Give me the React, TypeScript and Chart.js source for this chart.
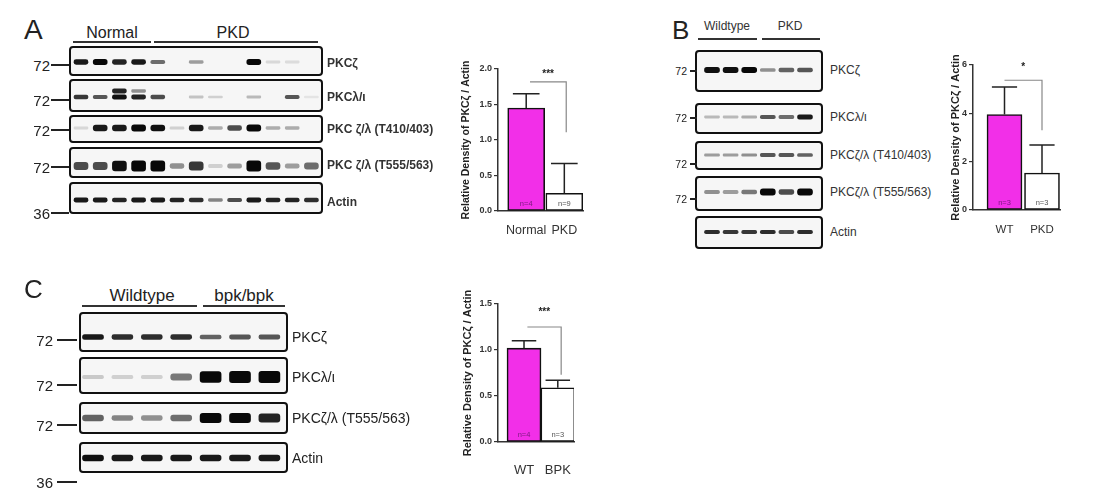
import React, { useEffect, useRef } from 'react';
import { Chart, registerables } from 'chart.js';

Chart.register(...registerables);

const FONT = '"Liberation Sans", Arial, Helvetica, sans-serif';
Chart.defaults.font.family = FONT;

// ---------- Panel A blot: 4 normal + 9 PKD lanes (band darkness 0..1)
const aLanes = [1, 2, 3, 4, 5, 6, 7, 8, 9, 10, 11, 12, 13];
const aRowLabels = ['PKCζ', 'PKCλ/ι', 'PKC ζ/λ (T410/403)', 'PKC ζ/λ (T555/563)', 'Actin'];
const aMarkers = ['72', '72', '72', '72', '36'];
const aPkcZeta = [0.85, 0.95, 0.8, 0.85, 0.45, 0, 0.25, 0, 0, 0.95, 0.06, 0.05, 0];
const aPkcLambda = [0.7, 0.55, 0.9, 0.8, 0.6, 0, 0.12, 0.08, 0, 0.15, 0, 0.55, 0.03];
const aPkcLambdaUpper = [0, 0, 0.8, 0.3, 0, 0, 0, 0, 0, 0, 0, 0, 0];
const aT410 = [0.06, 0.85, 0.85, 0.95, 0.9, 0.08, 0.85, 0.2, 0.6, 0.95, 0.2, 0.2, 0];
const aT555 = [0.6, 0.6, 0.9, 0.95, 0.95, 0.3, 0.7, 0.08, 0.25, 1, 0.55, 0.25, 0.45];
const aActin = [0.85, 0.85, 0.8, 0.85, 0.85, 0.8, 0.75, 0.35, 0.6, 0.85, 0.8, 0.8, 0.75];

// ---------- Panel B blot: 3 wildtype + 3 PKD lanes
const bLanes = [1, 2, 3, 4, 5, 6];
const bRowLabels = ['PKCζ', 'PKCλ/ι', 'PKCζ/λ (T410/403)', 'PKCζ/λ (T555/563)', 'Actin'];
const bMarkers = ['72', '72', '72', '72'];
const bPkcZeta = [0.9, 0.9, 1, 0.3, 0.5, 0.55];
const bPkcLambda = [0.15, 0.15, 0.2, 0.55, 0.45, 0.85];
const bT410 = [0.25, 0.25, 0.3, 0.55, 0.55, 0.5];
const bT555 = [0.3, 0.25, 0.4, 0.95, 0.6, 1];
const bActin = [0.75, 0.7, 0.7, 0.75, 0.6, 0.75];

// ---------- Panel C blot: 4 wildtype + 3 bpk/bpk lanes
const cLanes = [1, 2, 3, 4, 5, 6, 7];
const cRowLabels = ['PKCζ', 'PKCλ/ι', 'PKCζ/λ (T555/563)', 'Actin'];
const cMarkers = ['72', '72', '72', '36'];
const cPkcZeta = [0.85, 0.75, 0.75, 0.75, 0.5, 0.55, 0.55];
const cPkcLambda = [0.1, 0.08, 0.08, 0.4, 0.95, 1, 1];
const cT555 = [0.5, 0.35, 0.3, 0.45, 0.95, 1, 0.8];
const cActin = [0.9, 0.85, 0.85, 0.85, 0.85, 0.85, 0.85];

// ---------- densitometry bars
const aGroups = ['Normal', 'PKD'];
const aMeans = [1.45, 0.25];
const aErrors = [0.2, 0.42];
const aCounts = ['n=4', 'n=9'];
const aYTicks = [0, 0.5, 1.0, 1.5, 2.0];

const bGroups = ['WT', 'PKD'];
const bMeans = [3.95, 1.53];
const bErrors = [1.14, 1.16];
const bCounts = ['n=3', 'n=3'];
const bYTicks = [0, 2, 4, 6];

const cGroups = ['WT', 'BPK'];
const cMeans = [1.02, 0.59];
const cErrors = [0.08, 0.08];
const cCounts = ['n=4', 'n=3'];
const cYTicks = [0, 0.5, 1.0, 1.5];

const PINK = '#f22fe8';
const Y_TITLE = 'Relative Density of PKCζ / Actin';

// ---------------------------------------------------------------- blots
type BlotRow = { values: number[]; upper?: number[] };
type BlotSpec = {
  left: number; top: number; width: number; height: number;
  lanes: number[]; rows: BlotRow[];
  laneX0: number; laneGap: number; bandW: number;
  boxLeft: number; boxRight: number;
  boxes: number[][]; // [top, bottom, bandY, minH, extraH]
};

function Blot({ spec }: { spec: BlotSpec }) {
  const ref = useRef<HTMLCanvasElement | null>(null);
  useEffect(() => {
    if (!ref.current) return;
    const lane = (px: number) => 1 + (px - spec.laneX0) / spec.laneGap;
    const datasets: any[] = [];
    spec.rows.forEach((row, r) => {
      const [, , band, minH, extraH] = spec.boxes[r];
      const make = (vals: number[], centre: number) => ({
        data: spec.lanes.map((l, i) => {
          const h = minH + extraH * vals[i];
          return { x: l, y: [centre - h / 2, centre + h / 2] };
        }),
        backgroundColor: vals.map((v) => `rgba(8,8,8,${Math.min(1, Math.pow(v, 0.75) * 1.05)})`),
        barThickness: spec.bandW,
        grouped: false,
        borderSkipped: false,
        borderRadius: 3,
      });
      datasets.push(make(row.values, band));
      if (row.upper) datasets.push(make(row.upper, band - 6));
    });
    const chart = new Chart(ref.current, {
      type: 'bar',
      data: { datasets },
      options: {
        animation: false,
        responsive: false,
        events: [],
        layout: { padding: 0 },
        plugins: { legend: { display: false }, tooltip: { enabled: false } },
        scales: {
          x: { type: 'linear', display: false, offset: false, min: lane(spec.left), max: lane(spec.left + spec.width) },
          y: { type: 'linear', display: false, reverse: true, min: spec.top, max: spec.top + spec.height },
        },
      },
      plugins: [
        {
          id: 'blotBoxes',
          beforeDatasetsDraw(c: any) {
            const { ctx, scales } = c;
            const xl = scales.x.getPixelForValue(lane(spec.boxLeft));
            const xr = scales.x.getPixelForValue(lane(spec.boxRight));
            ctx.save();
            spec.boxes.forEach(([t, b]) => {
              const yt = scales.y.getPixelForValue(t);
              const yb = scales.y.getPixelForValue(b);
              ctx.beginPath();
              ctx.roundRect(xl, yt, xr - xl, yb - yt, 3);
              ctx.fillStyle = '#f6f6f6';
              ctx.fill();
            });
            ctx.restore();
            ctx.save();
            ctx.filter = 'blur(0.7px)';
          },
          afterDatasetsDraw(c: any) {
            const { ctx, scales } = c;
            ctx.restore();
            const xl = scales.x.getPixelForValue(lane(spec.boxLeft));
            const xr = scales.x.getPixelForValue(lane(spec.boxRight));
            ctx.save();
            ctx.strokeStyle = '#111';
            ctx.lineWidth = 2;
            spec.boxes.forEach(([t, b]) => {
              const yt = scales.y.getPixelForValue(t);
              const yb = scales.y.getPixelForValue(b);
              ctx.beginPath();
              ctx.roundRect(xl, yt, xr - xl, yb - yt, 3);
              ctx.stroke();
            });
            ctx.restore();
          },
        },
      ],
    } as any);
    return () => chart.destroy();
  }, [spec]);
  return (
    <canvas
      ref={ref}
      width={spec.width}
      height={spec.height}
      style={{ position: 'absolute', left: spec.left, top: spec.top, width: spec.width, height: spec.height }}
    />
  );
}

// ---------------------------------------------------------------- bar charts
type BarSpec = {
  left: number; top: number; width: number; height: number;
  padTop: number; padRight: number; yAxisW: number; xAxisH: number;
  titlePad: number; titleSize: number; labelPad: number; labelSize: number;
  xMin: number; xMax: number; barW: number;
  groups: string[]; means: number[]; errors: number[]; counts: string[];
  yTicks: number[]; decimals: number;
  bracket: { x1: number; x2: number; y: number; drop: number; starY: number; stars: string };
};

function Bars({ spec }: { spec: BarSpec }) {
  const ref = useRef<HTMLCanvasElement | null>(null);
  useEffect(() => {
    if (!ref.current) return;
    const yMax = spec.yTicks[spec.yTicks.length - 1];
    const chart = new Chart(ref.current, {
      type: 'bar',
      data: {
        datasets: [
          {
            data: spec.means.map((m, i) => ({ x: i + 1, y: m })),
            backgroundColor: [PINK, '#ffffff'],
            borderColor: '#111',
            borderWidth: 1.6,
            borderSkipped: false,
            barThickness: spec.barW,
          },
        ],
      },
      options: {
        animation: false,
        responsive: false,
        events: [],
        layout: { padding: { top: spec.padTop, right: spec.padRight, left: 0, bottom: 0 } },
        plugins: { legend: { display: false }, tooltip: { enabled: false } },
        scales: {
          x: {
            type: 'linear',
            offset: false,
            min: spec.xMin,
            max: spec.xMax,
            afterBuildTicks: (axis: any) => {
              axis.ticks = spec.groups.map((_, i) => ({ value: i + 1 }));
            },
            afterFit: (axis: any) => {
              axis.height = spec.xAxisH;
            },
            ticks: {
              callback: (v: any) => spec.groups[Math.round(Number(v)) - 1] ?? '',
              font: { size: spec.labelSize },
              color: '#333',
              padding: spec.labelPad,
              maxRotation: 0,
              autoSkip: false,
            },
            grid: { display: false, drawTicks: false },
            border: { display: true, color: '#333', width: 1.5 },
          },
          y: {
            type: 'linear',
            min: 0,
            max: yMax,
            afterBuildTicks: (axis: any) => {
              axis.ticks = spec.yTicks.map((v) => ({ value: v }));
            },
            afterFit: (axis: any) => {
              axis.width = spec.yAxisW;
            },
            ticks: {
              callback: (v: any) => Number(v).toFixed(spec.decimals),
              font: { size: 9, weight: 'bold' },
              color: '#333',
              padding: 2,
            },
            grid: { drawOnChartArea: false, drawTicks: true, tickLength: 4, color: '#333', lineWidth: 1.2 },
            border: { display: true, color: '#333', width: 1.5 },
            title: {
              display: true,
              text: Y_TITLE,
              font: { size: spec.titleSize, weight: 'bold' },
              color: '#222',
              padding: { top: spec.titlePad, bottom: 0 },
            },
          },
        },
      },
      plugins: [
        {
          id: 'barExtras',
          afterDatasetsDraw(c: any) {
            const { ctx, scales } = c;
            const { x, y } = scales;
            ctx.save();
            spec.means.forEach((m, i) => {
              const cx = x.getPixelForValue(i + 1);
              const yb = y.getPixelForValue(m);
              const yt = y.getPixelForValue(m + spec.errors[i]);
              const cap = spec.barW * 0.36;
              ctx.strokeStyle = '#222';
              ctx.lineWidth = 1.5;
              ctx.beginPath();
              ctx.moveTo(cx, yb);
              ctx.lineTo(cx, yt);
              ctx.moveTo(cx - cap, yt);
              ctx.lineTo(cx + cap, yt);
              ctx.stroke();
              ctx.fillStyle = i === 0 ? '#7d1a80' : '#555';
              ctx.font = `7.5px ${FONT}`;
              ctx.textAlign = 'center';
              ctx.textBaseline = 'bottom';
              ctx.fillText(spec.counts[i], cx, y.getPixelForValue(0) - 3);
            });
            const b = spec.bracket;
            const x1 = x.getPixelForValue(b.x1);
            const x2 = x.getPixelForValue(b.x2);
            const yb = y.getPixelForValue(b.y);
            ctx.strokeStyle = '#888';
            ctx.lineWidth = 1.2;
            ctx.beginPath();
            ctx.moveTo(x1, yb);
            ctx.lineTo(x2, yb);
            ctx.lineTo(x2, y.getPixelForValue(b.drop));
            ctx.stroke();
            ctx.fillStyle = '#222';
            ctx.font = `bold 10px ${FONT}`;
            ctx.textAlign = 'center';
            ctx.textBaseline = 'middle';
            ctx.fillText(b.stars, (x1 + x2) / 2, y.getPixelForValue(b.starY));
            ctx.restore();
          },
        },
      ],
    } as any);
    return () => chart.destroy();
  }, [spec]);
  return (
    <canvas
      ref={ref}
      width={spec.width}
      height={spec.height}
      style={{ position: 'absolute', left: spec.left, top: spec.top, width: spec.width, height: spec.height }}
    />
  );
}

// ---------------------------------------------------------------- text helpers
function T(props: { x: number; y: number; size: number; children: any; align?: 'left' | 'center'; bold?: boolean; color?: string }) {
  const { x, y, size, align = 'left', bold, color = '#222' } = props;
  return (
    <div
      style={{
        position: 'absolute',
        left: x,
        top: y,
        transform: `translate(${align === 'center' ? '-50%' : '0'}, -50%)`,
        fontSize: size,
        fontWeight: bold ? 'bold' : 'normal',
        color,
        lineHeight: 1,
        whiteSpace: 'nowrap',
      }}
    >
      {props.children}
    </div>
  );
}

function Marker(props: { y: number; text: string; textRight: number; d1: number; d2: number; size: number; thick: number }) {
  const { y, text, textRight, d1, d2, size, thick } = props;
  return (
    <>
      <div
        style={{
          position: 'absolute', right: 1100 - textRight, top: y, transform: 'translateY(-50%)',
          fontSize: size, lineHeight: 1, color: '#222', whiteSpace: 'nowrap',
        }}
      >
        {text}
      </div>
      <div style={{ position: 'absolute', left: d1, top: y - thick / 2, width: d2 - d1, height: thick, background: '#222' }} />
    </>
  );
}

function Rule({ x1, x2, y, thick }: { x1: number; x2: number; y: number; thick: number }) {
  return <div style={{ position: 'absolute', left: x1, top: y - thick / 2, width: x2 - x1, height: thick, background: '#333' }} />;
}

// ---------------------------------------------------------------- layout
const blotA: BlotSpec = {
  left: 60, top: 40, width: 270, height: 180,
  lanes: aLanes,
  rows: [
    { values: aPkcZeta },
    { values: aPkcLambda, upper: aPkcLambdaUpper },
    { values: aT410 },
    { values: aT555 },
    { values: aActin },
  ],
  laneX0: 81, laneGap: 19.2, bandW: 14,
  boxLeft: 70, boxRight: 322,
  boxes: [
    [47, 75, 62, 2, 3.5],
    [80, 111, 97, 1.8, 3],
    [116, 142, 128, 2, 4.5],
    [148, 177, 166, 2.5, 8],
    [183, 213, 200, 2, 2.5],
  ],
};
const aRowY = [63, 97, 129, 165, 202];
const aMarkY = [65, 100, 130, 167, 213];

const blotB: BlotSpec = {
  left: 690, top: 45, width: 138, height: 210,
  lanes: bLanes,
  rows: [{ values: bPkcZeta }, { values: bPkcLambda }, { values: bT410 }, { values: bT555 }, { values: bActin }],
  laneX0: 712, laneGap: 18.6, bandW: 15,
  boxLeft: 696, boxRight: 822,
  boxes: [
    [51, 91, 70, 2, 3.5],
    [104, 133, 117, 1.8, 3],
    [142, 169, 155, 1.8, 2.5],
    [177, 210, 192, 2, 4.5],
    [217, 248, 232, 2, 2],
  ],
};
const bRowY = [70, 117, 155, 192, 232];
const bMarkY = [71, 118, 164, 199];

const blotC: BlotSpec = {
  left: 74, top: 306, width: 220, height: 172,
  lanes: cLanes,
  rows: [{ values: cPkcZeta }, { values: cPkcLambda }, { values: cT555 }, { values: cActin }],
  laneX0: 93, laneGap: 29.4, bandW: 21,
  boxLeft: 80, boxRight: 287,
  boxes: [
    [313, 351, 337, 2.5, 3],
    [358, 393, 377, 2.5, 9],
    [403, 433, 418, 2.5, 7],
    [443, 472, 458, 3.5, 2.5],
  ],
};
const cRowY = [337, 377, 418, 458];
const cMarkY = [340, 385, 425, 482];

const barA: BarSpec = {
  left: 450, top: 55, width: 150, height: 190,
  padTop: 14, padRight: 17, yAxisW: 48, xAxisH: 34,
  titlePad: 10, titleSize: 10.5, labelPad: 12, labelSize: 12.5,
  xMin: 0.26, xMax: 2.49, barW: 37,
  groups: aGroups, means: aMeans, errors: aErrors, counts: aCounts,
  yTicks: aYTicks, decimals: 1,
  bracket: { x1: 1.1, x2: 2.05, y: 1.82, drop: 1.11, starY: 1.93, stars: '***' },
};
const barB: BarSpec = {
  left: 925, top: 50, width: 150, height: 195,
  padTop: 15, padRight: 15, yAxisW: 48, xAxisH: 35,
  titlePad: 24, titleSize: 11, labelPad: 13, labelSize: 11.5,
  xMin: 0.16, xMax: 2.48, barW: 35,
  groups: bGroups, means: bMeans, errors: bErrors, counts: bCounts,
  yTicks: bYTicks, decimals: 0,
  bracket: { x1: 1.0, x2: 2.0, y: 5.37, drop: 3.3, starY: 5.9, stars: '*' },
};
const barC: BarSpec = {
  left: 450, top: 290, width: 145, height: 190,
  padTop: 14, padRight: 15, yAxisW: 48, xAxisH: 38,
  titlePad: 11, titleSize: 11, labelPad: 21, labelSize: 13,
  xMin: 0.23, xMax: 2.48, barW: 34,
  groups: cGroups, means: cMeans, errors: cErrors, counts: cCounts,
  yTicks: cYTicks, decimals: 1,
  bracket: { x1: 1.1, x2: 2.1, y: 1.25, drop: 0.73, starY: 1.41, stars: '***' },
};

export default function App() {
  return (
    <div
      style={{
        position: 'fixed', left: 0, top: 0, width: 1100, height: 503,
        background: '#fff', overflow: 'hidden', fontFamily: FONT, color: '#222',
      }}
    >
      {/* Panel A */}
      <T x={24} y={30} size={28}>A</T>
      <T x={112} y={33} size={16} align="center">Normal</T>
      <T x={233} y={33} size={16} align="center">PKD</T>
      <Rule x1={73} x2={151} y={42} thick={2} />
      <Rule x1={154} x2={318} y={42} thick={2} />
      <Blot spec={blotA} />
      {aRowLabels.map((l, i) => (
        <T key={'al' + i} x={327} y={aRowY[i]} size={12} bold color="#333">{l}</T>
      ))}
      {aMarkers.map((m, i) => (
        <Marker key={'am' + i} y={aMarkY[i]} text={m} textRight={50} d1={51} d2={69} size={15} thick={2.5} />
      ))}
      <Bars spec={barA} />

      {/* Panel B */}
      <T x={672} y={30} size={26}>B</T>
      <T x={727} y={26} size={12} align="center" color="#333">Wildtype</T>
      <T x={790} y={26} size={12} align="center" color="#333">PKD</T>
      <Rule x1={698} x2={757} y={39} thick={1.5} />
      <Rule x1={762} x2={820} y={39} thick={1.5} />
      <Blot spec={blotB} />
      {bRowLabels.map((l, i) => (
        <T key={'bl' + i} x={830} y={bRowY[i]} size={12} color="#333">{l}</T>
      ))}
      {bMarkers.map((m, i) => (
        <Marker key={'bm' + i} y={bMarkY[i]} text={m} textRight={687} d1={690} d2={697} size={10.5} thick={1.5} />
      ))}
      <Bars spec={barB} />

      {/* Panel C */}
      <T x={24} y={289} size={26}>C</T>
      <T x={142} y={295} size={17} align="center">Wildtype</T>
      <T x={244} y={295} size={17} align="center">bpk/bpk</T>
      <Rule x1={82} x2={197} y={306} thick={2} />
      <Rule x1={203} x2={285} y={306} thick={2} />
      <Blot spec={blotC} />
      {cRowLabels.map((l, i) => (
        <T key={'cl' + i} x={292} y={cRowY[i]} size={14}>{l}</T>
      ))}
      {cMarkers.map((m, i) => (
        <Marker key={'cm' + i} y={cMarkY[i]} text={m} textRight={53} d1={57} d2={77} size={15} thick={2.5} />
      ))}
      <Bars spec={barC} />
    </div>
  );
}
